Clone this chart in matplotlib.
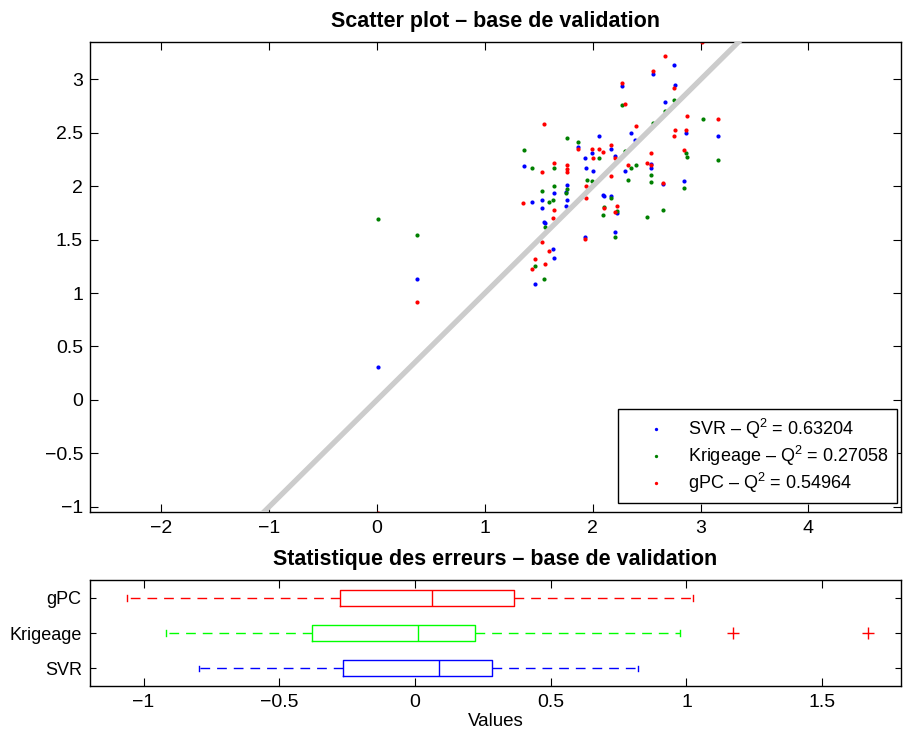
import matplotlib
matplotlib.use('Agg')
import matplotlib.pyplot as plt
import numpy as np

plt.rcParams['font.family'] = ['Liberation Sans', 'DejaVu Sans']
plt.rcParams['mathtext.fontset'] = 'custom'
plt.rcParams['mathtext.rm'] = 'Liberation Sans'
plt.rcParams['mathtext.it'] = 'Liberation Sans:italic'

# scatter data : x = true value, y = predicted value
svr_x = [2.755, 2.559, 2.275, 2.762, 2.668, 2.359, 2.396, 2.861, 3.165, 2.055,
         1.865, 1.996, 2.165, 1.931, 2.202, 1.359, 1.940, 2.003, 2.303, 2.537,
         2.543, 2.849, 2.655, 1.762, 1.643, 1.753, 2.099, 2.106, 2.172, 1.434,
         1.530, 1.530, 1.765, 1.753, 1.546, 1.553, 2.221, 2.205, 1.928, 1.631,
         1.643, 1.469, 0.366, 0.012]
svr_y = [3.140, 3.049, 2.940, 2.952, 2.793, 2.496, 2.437, 2.502, 2.468, 2.471,
         2.368, 2.315, 2.350, 2.268, 2.287, 2.187, 2.168, 2.146, 2.146, 2.205,
         2.168, 2.053, 2.022, 2.015, 1.933, 1.949, 1.921, 1.905, 1.905, 1.856,
         1.868, 1.793, 1.868, 1.812, 1.665, 1.652, 1.750, 1.575, 1.525, 1.409,
         1.324, 1.084, 1.134, 0.312]

krig_x = [2.755, 2.275, 2.668, 2.559, 3.018, 1.765, 1.865, 1.359, 2.299, 2.055,
          2.861, 2.874, 3.165, 1.643, 1.434, 2.359, 2.399, 2.537, 2.537, 2.331,
          1.943, 1.996, 1.643, 2.849, 1.530, 1.762, 1.753, 2.172, 1.593, 1.631,
          2.102, 2.221, 2.097, 2.502, 2.655, 1.553, 2.205, 1.469, 1.546, 0.012,
          0.366]
krig_y = [2.805, 2.762, 2.706, 2.590, 2.634, 2.455, 2.418, 2.340, 2.334, 2.268,
          2.312, 2.277, 2.243, 2.172, 2.174, 2.172, 2.200, 2.106, 2.043, 2.055,
          2.055, 2.046, 2.006, 1.987, 1.959, 1.971, 1.933, 1.887, 1.856, 1.868,
          1.809, 1.771, 1.727, 1.709, 1.774, 1.615, 1.525, 1.249, 1.131, 1.690,
          1.546]

gpc_x = [2.668, 2.559, 2.275, 2.755, 2.296, 1.546, 2.874, 3.165, 2.399, 2.762,
         2.861, 2.753, 2.165, 1.996, 2.055, 2.099, 1.865, 2.003, 2.202, 2.849,
         1.643, 1.759, 1.765, 1.765, 1.530, 2.537, 2.331, 2.502, 2.543, 2.172,
         2.655, 1.933, 1.940, 3.015, 1.356, 1.643, 2.221, 2.106, 2.205, 1.631,
         1.530, 1.593, 1.469, 1.434, 1.553, 1.928, 0.366, 0.012]
gpc_y = [3.221, 3.077, 2.964, 2.921, 2.768, 2.580, 2.655, 2.627, 2.565, 2.530,
         2.528, 2.471, 2.390, 2.346, 2.346, 2.318, 2.352, 2.265, 2.262, 2.343,
         2.221, 2.202, 2.158, 2.137, 2.137, 2.308, 2.200, 2.221, 2.196, 2.099,
         2.031, 2.003, 1.893, 3.349, 1.840, 1.774, 1.818, 1.797, 1.759, 1.703,
         1.478, 1.396, 1.315, 1.228, 1.275, 1.506, 0.918, -1.056]

q2_values = [0.63204, 0.27058, 0.54964]

# error statistics (SVR, Krigeage, gPC)
box_labels = ['SVR', 'Krigeage', 'gPC']
box_whislo = [-0.794, -0.917, -1.062]
box_q1 = [-0.267, -0.380, -0.278]
box_med = [0.089, 0.011, 0.064]
box_q3 = [0.283, 0.221, 0.365]
box_whishi = [0.820, 0.977, 1.024]
box_fliers = [[], [1.173, 1.670], []]


def style_axes(ax):
    for s in ax.spines.values():
        s.set_linewidth(1.0)
    ax.tick_params(direction='in', length=6, width=0.8, top=True, right=True,
                   labelsize=14, pad=6)


def main():
    fig = plt.figure(figsize=(9.04, 7.32), dpi=100)

    # scatter plot
    ax = fig.add_axes([0.0996, 0.3005, 0.897, 0.642])
    series = [(svr_x, svr_y, (0, 0, 1), 'SVR'),
              (krig_x, krig_y, (0, 0.5, 0), 'Krigeage'),
              (gpc_x, gpc_y, (1, 0, 0), 'gPC')]
    handles = []
    for (x, y, c, name), q2 in zip(series, q2_values):
        h, = ax.plot(x, y, 'o', color=c, markersize=3.0, markeredgewidth=0,
                     linestyle='none', label=name + ' – Q$^{2}$ = ' + str(q2))
        handles.append(h)
    ax.plot([-3, 5], [-3, 5], color=(0.8, 0.8, 0.8), linewidth=3.8, zorder=3)
    ax.set_xlim(-2.661, 4.857)
    ax.set_ylim(-1.05, 3.35)
    ax.set_xticks(np.arange(-2, 5, 1))
    ax.set_yticks(np.arange(-1, 3.01, 0.5))
    ax.set_yticklabels(['−1', '−0.5', '0', '0.5', '1', '1.5', '2', '2.5', '3'])
    ax.set_xticklabels(['−2', '−1', '0', '1', '2', '3', '4'])
    style_axes(ax)
    ax.tick_params(axis='y', pad=5)
    ax.set_title('Scatter plot – base de validation', fontsize=15.5,
                 fontweight='bold', pad=11)
    leg = ax.legend(handles=handles, loc='lower right',
                    bbox_to_anchor=(0.995, 0.019), fontsize=13,
                    fancybox=False, framealpha=1, edgecolor='black',
                    handlelength=3.3, handletextpad=0.15, borderpad=0.45,
                    labelspacing=0.15, markerscale=0.8, borderaxespad=0)
    leg.get_frame().set_linewidth(1.0)
    leg.set_zorder(5)

    # box plot of the errors
    bx = fig.add_axes([0.0996, 0.0628, 0.897, 0.1448])
    stats = []
    for i in range(len(box_labels)):
        stats.append({'label': box_labels[i], 'whislo': box_whislo[i],
                      'q1': box_q1[i], 'med': box_med[i], 'q3': box_q3[i],
                      'whishi': box_whishi[i], 'fliers': box_fliers[i]})
    bp = bx.bxp(stats, positions=[1, 2, 3], widths=0.45, capwidths=0.16,
                orientation='horizontal', showfliers=True,
                flierprops=dict(marker='+', markeredgecolor='r', markersize=9,
                                markeredgewidth=1.0),
                whiskerprops=dict(linestyle=(0, (7, 5))),
                boxprops=dict(linewidth=1.0), medianprops=dict(linewidth=1.0))
    colors = [(0, 0, 1), (0, 1, 0), (1, 0, 0)]
    for i, c in enumerate(colors):
        bp['boxes'][i].set_color(c)
        bp['medians'][i].set_color(c)
        for k in (2 * i, 2 * i + 1):
            bp['whiskers'][k].set_color(c)
            bp['caps'][k].set_color(c)
    bx.set_xlim(-1.197, 1.790)
    bx.set_ylim(0.5, 3.5)
    bx.set_xticks([-1, -0.5, 0, 0.5, 1, 1.5])
    bx.set_xticklabels(['−1', '−0.5', '0', '0.5', '1', '1.5'])
    style_axes(bx)
    bx.tick_params(axis='y', length=4, labelsize=13)
    bx.set_xlabel('Values', fontsize=13.5, labelpad=1)
    bx.set_title('Statistique des erreurs – base de validation', fontsize=15.5,
                 fontweight='bold', pad=11)

    fig.savefig('out.png', dpi=100)


if __name__ == '__main__':
    main()
